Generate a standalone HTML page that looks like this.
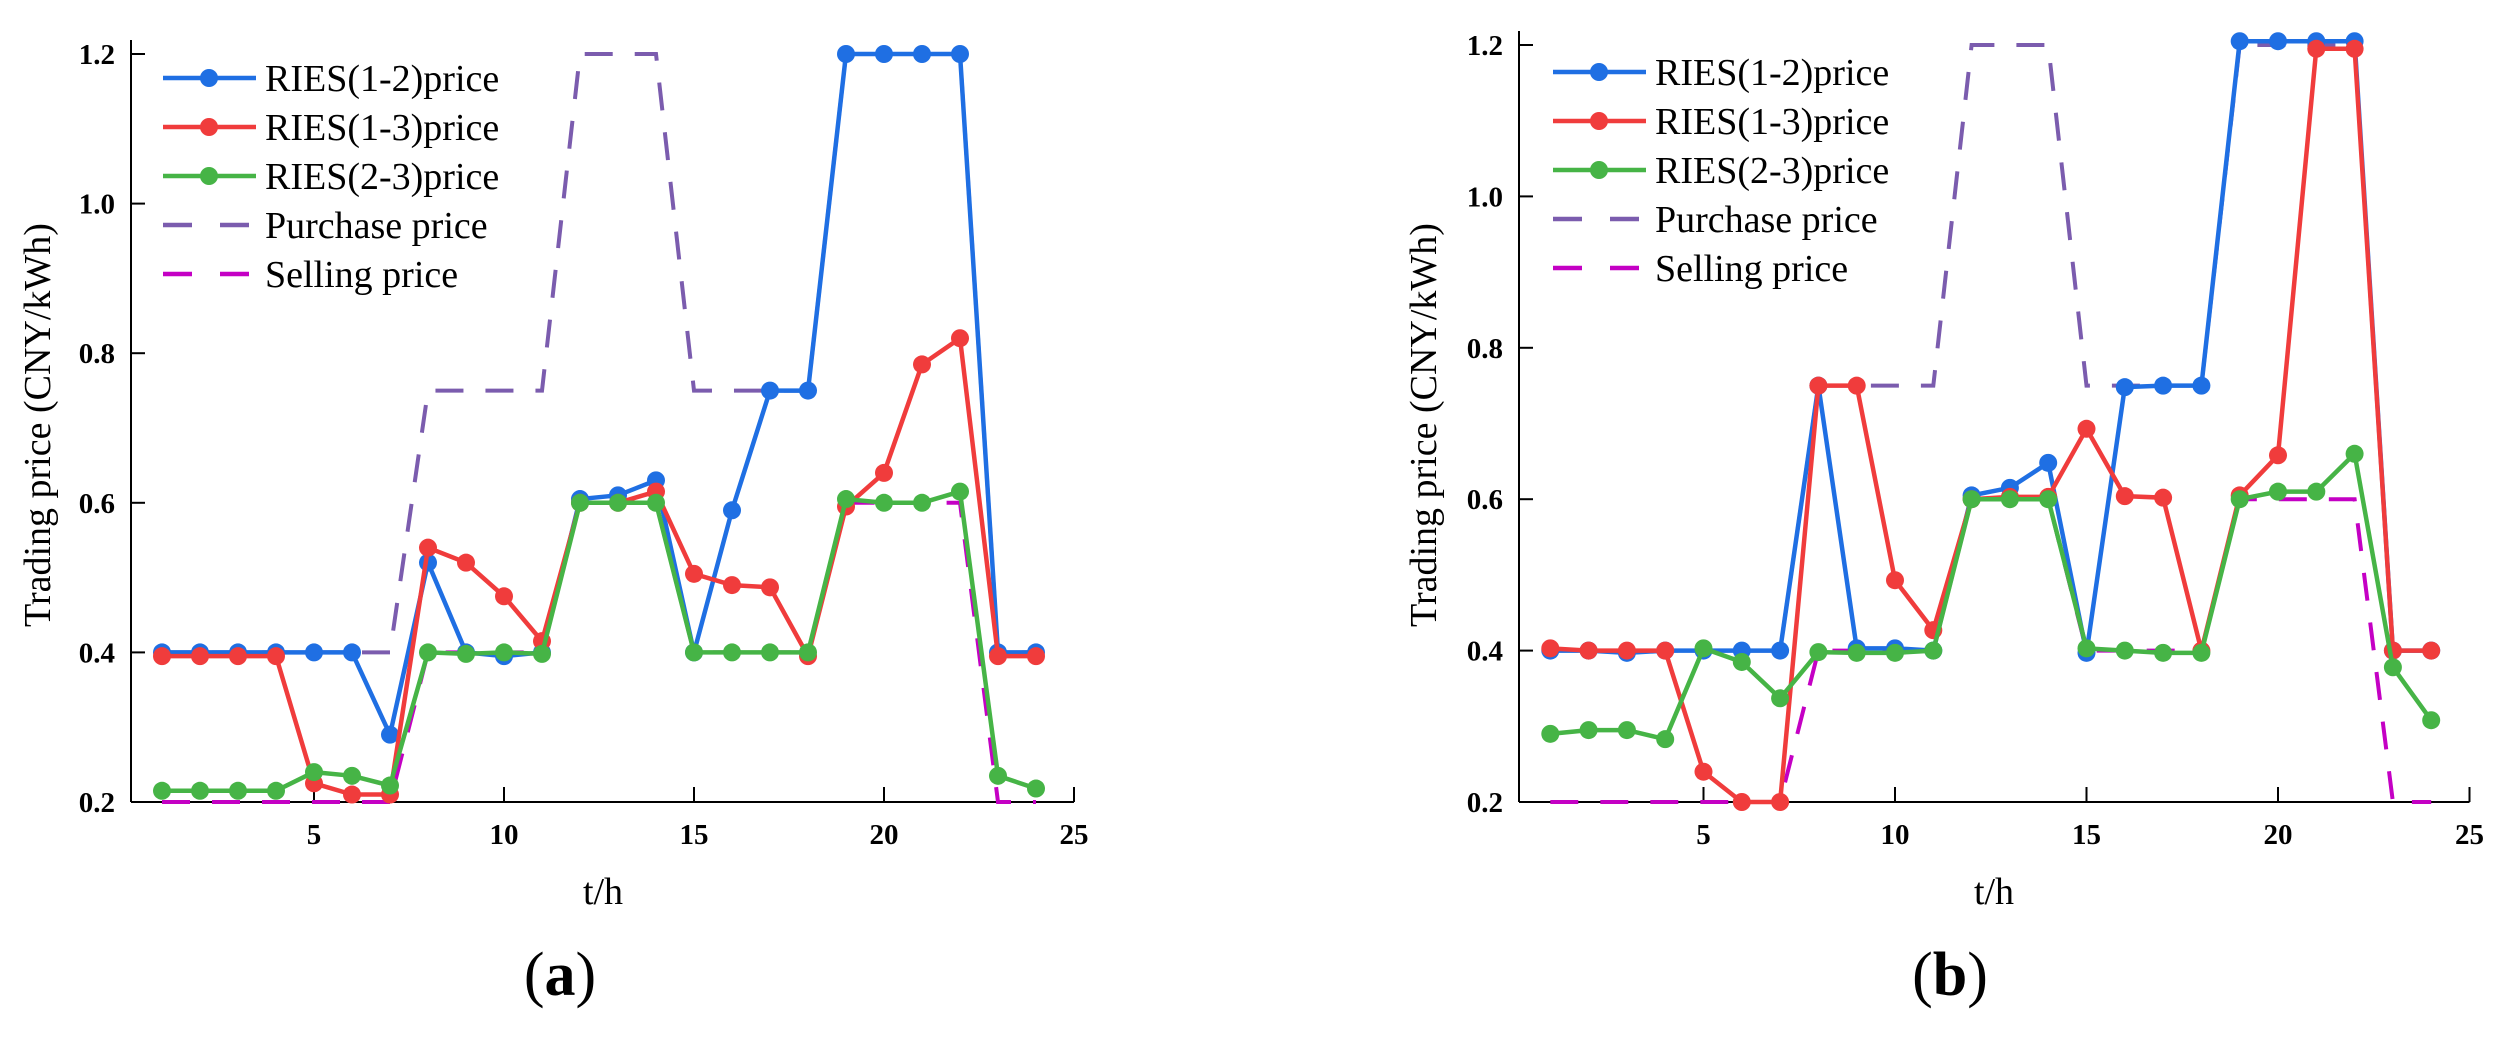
<!DOCTYPE html>
<html><head><meta charset="utf-8">
<style>
html,body{margin:0;padding:0;background:#fff;}
svg, svg text, svg tspan{font-family:"Liberation Serif","Times New Roman",serif;}
</style></head>
<body>
<svg id="fig" width="2510" height="1037" viewBox="0 0 2510 1037" xmlns="http://www.w3.org/2000/svg" font-family="Liberation Serif, serif"></svg>
<script>
const hours = [1,2,3,4,5,6,7,8,9,10,11,12,13,14,15,16,17,18,19,20,21,22,23,24];
const xTicks = [5,10,15,20,25];
const yTicks = [0.2,0.4,0.6,0.8,1.0,1.2];
const yTickLabels = ["0.2","0.4","0.6","0.8","1.0","1.2"];
const purchasePrice = [.4,.4,.4,.4,.4,.4,.4,.75,.75,.75,.75,1.2,1.2,1.2,.75,.75,.75,.75,1.2,1.2,1.2,1.2,.4,.4];
const sellingPrice = [.2,.2,.2,.2,.2,.2,.2,.4,.4,.4,.4,.6,.6,.6,.4,.4,.4,.4,.6,.6,.6,.6,.2,.2];
const aBlue = [.4,.4,.4,.4,.4,.4,.29,.52,.4,.395,.4,.605,.61,.63,.4,.59,.75,.75,1.2,1.2,1.2,1.2,.4,.4];
const aRed = [.395,.395,.395,.395,.225,.21,.21,.54,.52,.475,.415,.6,.6,.615,.505,.49,.487,.395,.595,.64,.785,.82,.395,.395];
const aGreen = [.215,.215,.215,.215,.24,.235,.222,.4,.398,.4,.398,.6,.6,.6,.4,.4,.4,.4,.605,.6,.6,.615,.235,.218];
const bBlue = [.4,.4,.397,.4,.4,.4,.4,.75,.403,.403,.4,.605,.615,.648,.397,.748,.75,.75,1.205,1.205,1.205,1.205,.4,.4];
const bRed = [.403,.4,.4,.4,.24,.2,.2,.75,.75,.493,.427,.6,.603,.603,.693,.604,.602,.4,.605,.658,1.195,1.195,.4,.4];
const bGreen = [.29,.295,.295,.283,.403,.385,.337,.398,.397,.397,.4,.6,.6,.6,.403,.4,.397,.397,.6,.61,.61,.66,.378,.308];
const legendLabels = ["RIES(1-2)price","RIES(1-3)price","RIES(2-3)price","Purchase price","Selling price"];

const NS="http://www.w3.org/2000/svg";
const svg=document.getElementById('fig');
const FF='"Liberation Serif", serif';
function mk(tag,attrs,parent){const e=document.createElementNS(NS,tag);for(const k in attrs)e.setAttribute(k,attrs[k]);if(tag==='text')e.style.fontFamily=FF;(parent||svg).appendChild(e);return e;}

const C={blue:"#1f6fe3",red:"#f03c3c",green:"#46b446",purple:"#7b5cae",mag:"#c400c4"};

function panel(cfg){
  const g=mk('g',{});
  
  
  const xs=v=>cfg.x0+(v)*cfg.ux;
  const ys=v=>cfg.y02-(v-0.2)/0.2*cfg.uy;
  const ax=mk('line',{x1:cfg.ax,y1:ys(0.2),x2:xs(25),y2:ys(0.2),stroke:"#000","stroke-width":2},g);
  
  
  const ay=mk('line',{x1:cfg.ax,y1:ys(0.2),x2:cfg.ax,y2:ys(1.2)-14,stroke:"#000","stroke-width":2},g);
  
  
  xTicks.forEach(t=>{
    mk('line',{x1:xs(t),y1:ys(0.2),x2:xs(t),y2:ys(0.2)-15,stroke:"#000","stroke-width":2},g);
    const tx=mk('text',{x:xs(t),y:ys(0.2)+42,"text-anchor":"middle","font-size":29,"font-weight":"bold"},g);
    tx.textContent=t;
    
    
  });
  yTicks.forEach((t,i)=>{
    mk('line',{x1:cfg.ax,y1:ys(t),x2:cfg.ax+14,y2:ys(t),stroke:"#000","stroke-width":2},g);
    const tx=mk('text',{x:cfg.ax-16,y:ys(t)+10,"text-anchor":"end","font-size":29,"font-weight":"bold"},g);
    tx.textContent=yTickLabels[i];
    
    
  });
  const xt=mk('text',{x:cfg.xtx,y:904,"text-anchor":"middle","font-size":38},g);
  xt.textContent="t/h";
  
  
  const yt=mk('text',{x:0,y:0,"text-anchor":"middle","font-size":38,transform:`translate(${cfg.ytx},425) rotate(-90)`},g);
  yt.textContent="Trading price (CNY/kWh)";
  
  
  const pl=mk('text',{x:cfg.lblx,y:995,"text-anchor":"middle","font-size":62},g);
  pl.innerHTML='(<tspan font-weight="bold">'+cfg.id+'</tspan>)';
  
  

  function pts(arr){return arr.map((v,i)=>xs(hours[i])+','+ys(v)).join(' ');}
  const p1=mk('polyline',{points:pts(purchasePrice),fill:"none",stroke:C.purple,"stroke-width":4,"stroke-dasharray":"28 22"},g);
  
  
  const p2=mk('polyline',{points:pts(sellingPrice),fill:"none",stroke:C.mag,"stroke-width":4,"stroke-dasharray":"28 22"},g);
  
  
  [[cfg.blue,C.blue,'ries-1-2'],[cfg.red,C.red,'ries-1-3'],[cfg.green,C.green,'ries-2-3']].forEach(([arr,col,nm])=>{
    const l=mk('polyline',{points:pts(arr),fill:"none",stroke:col,"stroke-width":4.5,"stroke-linejoin":"round"},g);
    
    
    arr.forEach((v,i)=>{
      const c=mk('circle',{cx:xs(hours[i]),cy:ys(v),r:9,fill:col},g);
      
      
    });
  });
  const lg=mk('g',{},g);
  
  
  const cols=[C.blue,C.red,C.green,C.purple,C.mag];
  legendLabels.forEach((lab,i)=>{
    const y=cfg.ly0+i*49;
    const e=mk('g',{},lg);
    
    
    if(i<3){
      mk('line',{x1:cfg.lx,y1:y,x2:cfg.lx+93,y2:y,stroke:cols[i],"stroke-width":4.5},e);
      mk('circle',{cx:cfg.lx+46,cy:y,r:9,fill:cols[i]},e);
    } else {
      mk('line',{x1:cfg.lx,y1:y,x2:cfg.lx+29,y2:y,stroke:cols[i],"stroke-width":4.5},e);
      mk('line',{x1:cfg.lx+57,y1:y,x2:cfg.lx+86,y2:y,stroke:cols[i],"stroke-width":4.5},e);
    }
    const t=mk('text',{x:cfg.lx+102,y:y+13,"font-size":38},e);
    t.textContent=lab;
  });
}
panel({id:'a',x0:124,ux:38,ax:131,y02:802,uy:149.6,xtx:603,ytx:50,lblx:560,lx:163,ly0:78,blue:aBlue,red:aRed,green:aGreen});
panel({id:'b',x0:1512,ux:38.3,ax:1519,y02:802,uy:151.4,xtx:1994,ytx:1436,lblx:1950,lx:1553,ly0:72,blue:bBlue,red:bRed,green:bGreen});
</script>
</body></html>
